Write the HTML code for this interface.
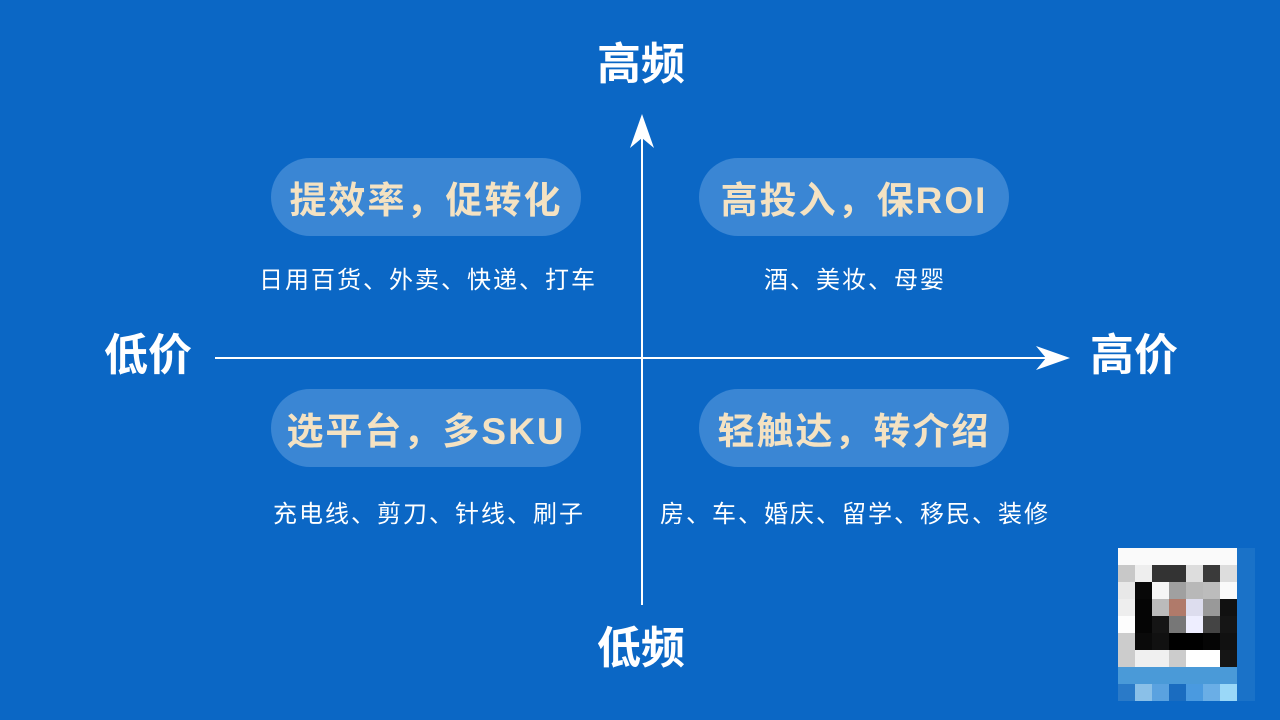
<!DOCTYPE html>
<html><head><meta charset="utf-8"><style>
*{margin:0;padding:0;box-sizing:border-box}
body{width:1280px;height:720px;background:#0b67c5;position:relative;overflow:hidden;font-family:"Liberation Sans","Noto Sans CJK SC",sans-serif;color:#fff}
.t{position:absolute;font-weight:bold;font-size:44px;line-height:1;white-space:nowrap}
.pill{position:absolute;width:310px;height:78px;border-radius:39px;background:#3a86d4;color:#f4e2c2;font-weight:bold;font-size:37px;display:flex;align-items:center;justify-content:center;letter-spacing:2px}
.s{position:absolute;font-size:24px;letter-spacing:2px;line-height:1;white-space:nowrap;transform:translateX(-50%)}
.q{position:absolute;left:1118px;top:548px;display:grid;grid-template-columns:repeat(7,17px);grid-auto-rows:17px}
</style></head><body>
<svg width="1280" height="720" style="position:absolute;left:0;top:0">
<line x1="215" y1="358" x2="1062" y2="358" stroke="#fff" stroke-width="2"/>
<polygon points="1070,358 1036,346 1046,358 1036,370" fill="#fff"/>
<line x1="642" y1="122" x2="642" y2="605" stroke="#fff" stroke-width="2"/>
<polygon points="642,114 630,148 642,138 654,148" fill="#fff"/>
</svg>
<div class="t" style="left:597px;top:43px">高频</div>
<div class="t" style="left:597px;top:627px">低频</div>
<div class="t" style="left:104px;top:334px">低价</div>
<div class="t" style="left:1090px;top:334px">高价</div>
<div class="pill" style="left:271px;top:158px">提效率，促转化</div>
<div class="pill" style="left:699px;top:158px">高投入，保ROI</div>
<div class="pill" style="left:271px;top:389px">选平台，多SKU</div>
<div class="pill" style="left:699px;top:389px">轻触达，转介绍</div>
<div class="s" style="left:428px;top:269px">日用百货、外卖、快递、打车</div>
<div class="s" style="left:855px;top:269px">酒、美妆、母婴</div>
<div class="s" style="left:429px;top:503px">充电线、剪刀、针线、刷子</div>
<div class="s" style="left:855px;top:503px">房、车、婚庆、留学、移民、装修</div>
<div style="position:absolute;left:1237px;top:548px;width:18px;height:153px;background:#1a72c8"></div>
<div class="q">
<i style="background:#fafafa"></i><i style="background:#fafafa"></i><i style="background:#fafafa"></i><i style="background:#fafafa"></i><i style="background:#fafafa"></i><i style="background:#fafafa"></i><i style="background:#fafafa"></i>
<i style="background:#c8c8c8"></i><i style="background:#eee"></i><i style="background:#333"></i><i style="background:#333"></i><i style="background:#ddd"></i><i style="background:#3a3a3a"></i><i style="background:#ddd"></i>
<i style="background:#e8e8e8"></i><i style="background:#080808"></i><i style="background:#f5f5f5"></i><i style="background:#a0a0a0"></i><i style="background:#b8b8b8"></i><i style="background:#bcbcbc"></i><i style="background:#fafafa"></i>
<i style="background:#eee"></i><i style="background:#050505"></i><i style="background:#bbb"></i><i style="background:#b07a6a"></i><i style="background:#dde"></i><i style="background:#999"></i><i style="background:#111"></i>
<i style="background:#fdfdfd"></i><i style="background:#050505"></i><i style="background:#151515"></i><i style="background:#777"></i><i style="background:#eef"></i><i style="background:#444"></i><i style="background:#151515"></i>
<i style="background:#ccc"></i><i style="background:#0a0a0a"></i><i style="background:#111"></i><i style="background:#000"></i><i style="background:#000"></i><i style="background:#050505"></i><i style="background:#111"></i>
<i style="background:#ccc"></i><i style="background:#f0f0f0"></i><i style="background:#f0f0f0"></i><i style="background:#ccc"></i><i style="background:#fff"></i><i style="background:#fff"></i><i style="background:#151515"></i>
<i style="background:#4a9ad8"></i><i style="background:#4a9ad8"></i><i style="background:#4a9ad8"></i><i style="background:#4a9ad8"></i><i style="background:#4a9ad8"></i><i style="background:#4a9ad8"></i><i style="background:#4a9ad8"></i>
<i style="background:#2a7ac8"></i><i style="background:#8ac0e8"></i><i style="background:#5aa2e0"></i><i style="background:#1a6cc0"></i><i style="background:#4a9ae0"></i><i style="background:#6aaee6"></i><i style="background:#9ad8f8"></i>
</div>
</body></html>
